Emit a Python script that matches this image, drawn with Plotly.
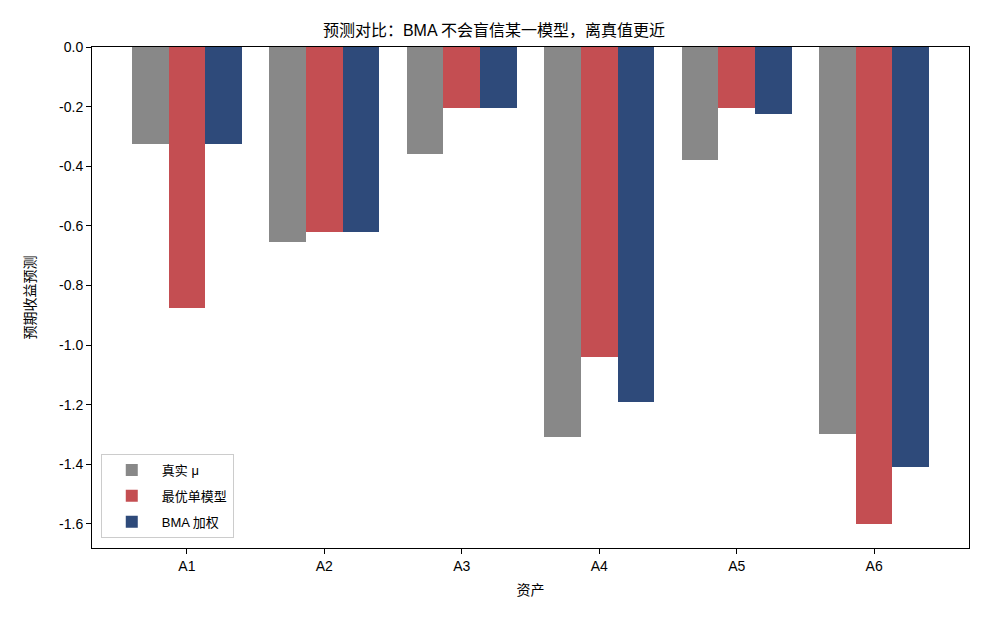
import plotly.graph_objects as go

assets = ["A1", "A2", "A3", "A4", "A5", "A6"]
true_mu = [-0.325, -0.655, -0.36, -1.31, -0.378, -1.297]
best_single = [-0.875, -0.62, -0.205, -1.04, -0.205, -1.6]
bma = [-0.325, -0.62, -0.205, -1.19, -0.225, -1.41]

series_names = ["真实 μ", "最优单模型", "BMA 加权"]
colors = ["#888888", "#C44E52", "#2E4A7A"]
yticks = [0.0, -0.2, -0.4, -0.6, -0.8, -1.0, -1.2, -1.4, -1.6]

font = "Liberation Sans, Arial, Noto Sans CJK SC, sans-serif"
w = 0.8 / 3
fig = go.Figure()
for i, (name, vals, c) in enumerate(zip(series_names, [true_mu, best_single, bma], colors)):
    fig.add_trace(go.Bar(
        x=[k + (i - 1) * w for k in range(len(assets))], y=vals, width=w,
        name=name, legendgroup="g%d" % i,
        marker=dict(color=c, line=dict(width=0)),
    ))

fig.update_layout(
    width=988, height=624,
    margin=dict(l=92, r=19, t=47, b=76),
    plot_bgcolor="white", paper_bgcolor="white",
    font=dict(family=font, size=14, color="black"),
    title=dict(text="预测对比：BMA 不会盲信某一模型，离真值更近", x=0.5, xanchor="center",
               y=1 - 30 / 624, yanchor="middle", font=dict(size=16)),
    barmode="overlay", bargap=0,
    showlegend=True,
    legend=dict(x=0.01, y=0.02, xanchor="left", yanchor="bottom",
                bgcolor="rgba(255,255,255,0.8)", bordercolor="#cccccc", borderwidth=1,
                font=dict(size=13), traceorder="grouped", tracegroupgap=6, itemwidth=50),
    xaxis=dict(range=[-0.69, 5.69], tickmode="array", tickvals=list(range(len(assets))),
               ticktext=assets, showgrid=False, zeroline=False,
               showline=True, linecolor="black", linewidth=1, mirror=True,
               ticks="outside", ticklen=5, tickcolor="black",
               title=dict(text="资产", standoff=12, font=dict(size=14))),
    yaxis=dict(range=[-1.681, 0.0], tickmode="array", tickvals=yticks,
               ticktext=["%.1f" % v if v != 0 else "0.0" for v in yticks],
               showgrid=False, zeroline=False,
               showline=True, linecolor="black", linewidth=1, mirror=True,
               ticks="outside", ticklen=5, tickcolor="black",
               title=dict(text="预期收益预测", standoff=20, font=dict(size=14))),
)
fig.write_html("out.html")
